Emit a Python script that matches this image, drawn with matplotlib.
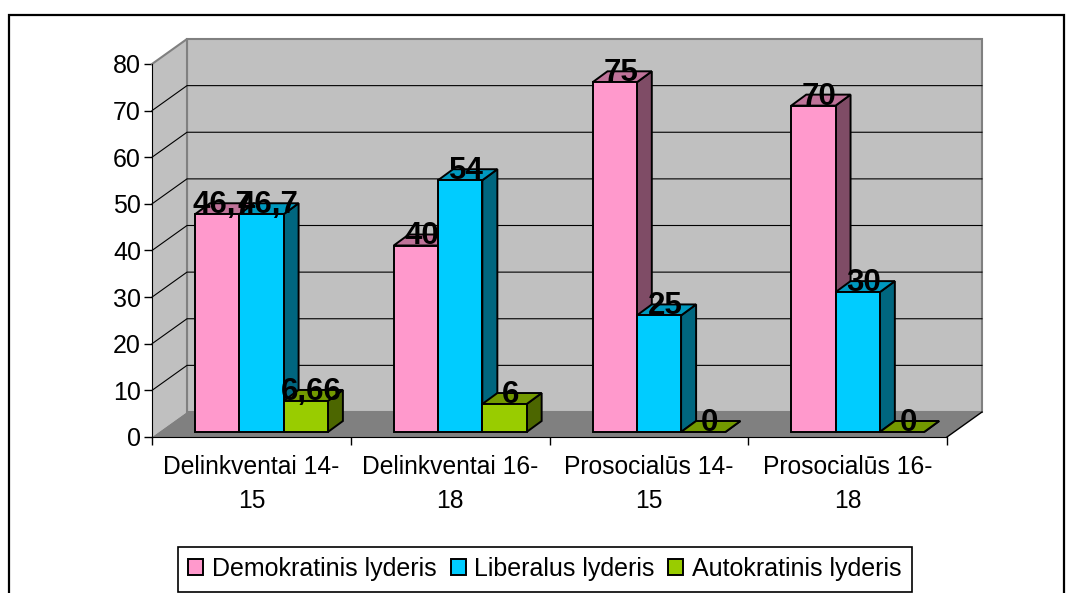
import matplotlib
matplotlib.use('Agg')
import matplotlib.pyplot as plt
from matplotlib.patches import Polygon, Patch, Rectangle

plt.rcParams['font.family'] = ['Liberation Sans', 'DejaVu Sans']

categories = ['Delinkventai 14-\n15', 'Delinkventai 16-\n18', 'Prosocialūs 14-\n15', 'Prosocialūs 16-\n18']
series_names = ['Demokratinis lyderis', 'Liberalus lyderis', 'Autokratinis lyderis']
demokratinis = [46.7, 40, 75, 70]
liberalus = [46.7, 54, 25, 30]
autokratinis = [6.66, 6, 0, 0]
y_ticks = [0, 10, 20, 30, 40, 50, 60, 70, 80]

front_colors = ['#FF99CC', '#00CCFF', '#99CC00']
top_colors = ['#BF7399', '#0099BF', '#739900']
side_colors = ['#7F4C66', '#00667F', '#4C6600']

W, H = 1069, 593
fig = plt.figure(figsize=(W / 100, H / 100), dpi=100)
# axes = front plane of the fake 3d box
ax = fig.add_axes([152 / W, 1 - 437 / H, 795 / W, 373 / H])
ax.set_xlim(0, 4)
ax.set_ylim(0, 80)
ax.set_facecolor('none')

px_x = 4 / 795
px_y = 80 / 373
dx, dy = 35 * px_x, 25 * px_y      # depth of the whole box
bar_dx, bar_dy = 15 * px_x, 11 * px_y  # depth of a bar
off_y = 5 * px_y  # bars sit a bit behind the front plane
bar_w = 44.3 * px_x
gap = 43 * px_x


def poly(pts, color, z, edge='none', lw=0):
    ax.add_patch(Polygon(pts, closed=True, facecolor=color, edgecolor=edge,
                         linewidth=lw, zorder=z, clip_on=False, joinstyle='miter'))


# walls and floor
poly([(dx, dy), (4 + dx, dy), (4 + dx, 80 + dy), (dx, 80 + dy)], '#C0C0C0', 1, '#808080', 1.5)
poly([(0, 0), (dx, dy), (dx, 80 + dy), (0, 80)], '#C0C0C0', 1)
poly([(0, 0), (4, 0), (4 + dx, dy), (dx, dy)], '#808080', 1.5)
ax.plot([0, dx, dx], [80, 80 + dy, dy], color='#808080', lw=1.5, zorder=2, clip_on=False)
ax.plot([4, 4 + dx], [0, dy], color='black', lw=1, zorder=2, clip_on=False)

# gridlines
for v in y_ticks[1:-1]:
    ax.plot([0, dx, 4 + dx], [v, v + dy, v + dy], color='black', lw=0.8, zorder=2, clip_on=False)

# bars
all_values = [demokratinis, liberalus, autokratinis]
for s, values in enumerate(all_values):
    for c, v in enumerate(values):
        x0 = c + gap + s * bar_w
        x1 = x0 + bar_w
        y0 = off_y
        y1 = off_y + v
        z = 3 + c + s * 0.1
        poly([(x1, y0), (x1 + bar_dx, y0 + bar_dy), (x1 + bar_dx, y1 + bar_dy), (x1, y1)],
             side_colors[s], z, 'black', 1.4)
        poly([(x0, y1), (x1, y1), (x1 + bar_dx, y1 + bar_dy), (x0 + bar_dx, y1 + bar_dy)],
             top_colors[s], z, 'black', 1.4)
        if v > 0:
            poly([(x0, y0), (x1, y0), (x1, y1), (x0, y1)], front_colors[s], z, 'black', 1.4)

# value labels
for s, values in enumerate(all_values):
    for c, v in enumerate(values):
        x0 = c + gap + s * bar_w
        ax.annotate(str(v).replace('.', ','), (x0 + bar_w / 2, off_y + v), xytext=(6, 9),
                    textcoords='offset pixels', ha='center', va='center',
                    fontsize=22.5, fontweight='bold', color='black', zorder=10)

for side in ['top', 'right']:
    ax.spines[side].set_visible(False)
ax.spines['left'].set_zorder(2.5)
ax.spines['bottom'].set_zorder(2.5)

ax.set_yticks(y_ticks)
ax.tick_params(axis='y', labelsize=18, length=6, width=1, pad=2)
ax.set_xticks([0, 1, 2, 3, 4])
ax.set_xticklabels([])
ax.set_xticks([0.5, 1.5, 2.5, 3.5], categories, minor=True, linespacing=1.5)
ax.tick_params(axis='x', which='major', length=6, width=1)
ax.tick_params(axis='x', which='minor', length=0, labelsize=17.7, pad=13)

handles = [Patch(facecolor=col, edgecolor='black', linewidth=1.4) for col in front_colors]
leg = fig.legend(handles, series_names, loc='center', bbox_to_anchor=(545 / W, 1 - 569 / H),
                 ncol=3, fontsize=18, frameon=True, fancybox=False, framealpha=1,
                 edgecolor='black', handlelength=0.6, handleheight=0.6, handletextpad=0.35,
                 columnspacing=0.55, borderpad=0.42, borderaxespad=0)
leg.get_frame().set_linewidth(1.2)

# chart frame, bottom edge runs off the picture
fig.add_artist(Rectangle((9 / W, -0.02), 1055 / W, 1.02 - 15 / H, transform=fig.transFigure,
                         facecolor='none', edgecolor='black', linewidth=1.6))

fig.savefig('out.png', dpi=100, facecolor='white')
